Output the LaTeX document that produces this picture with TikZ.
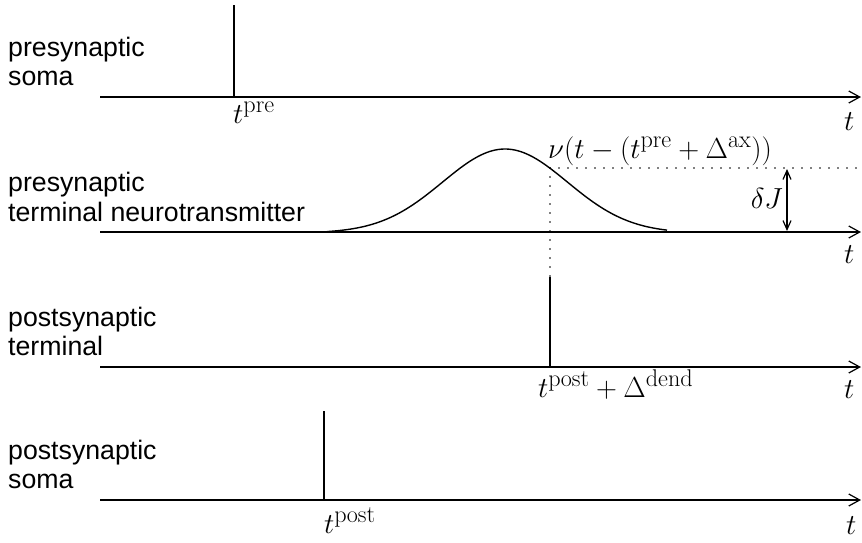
\documentclass[tikz,border=0pt]{standalone}
\usepackage{fontspec}
\usepackage{graphicx}
\newfontfamily\labelsans{Liberation Sans}
\usetikzlibrary{arrows.meta}
\newcommand{\bigmath}[1]{\scalebox{1.1656}{\fontsize{24.88}{30}\selectfont$#1$}}
\tikzset{
  axis/.style={line width=1.4pt, -{Straight Barb[length=11pt,width=12pt,line width=1.2pt]}},
  spike/.style={line width=1.4pt},
  dotline/.style={line width=1.8pt, line cap=round, dash pattern=on 0pt off 9pt},
  curve/.style={line width=1.4pt},
  rowtext/.style={font=\labelsans\fontsize{26.7}{34}\selectfont, anchor=base west, inner sep=0pt, align=left},
  mathlab/.style={anchor=base west, inner sep=0pt},
  dj/.style={line width=1.2pt, {Straight Barb[length=9pt,width=8pt]}-{Straight Barb[length=9pt,width=8pt]}}
}
\begin{document}
\begin{tikzpicture}[x=1pt,y=-1pt]
\useasboundingbox (0,0) rectangle (862,542);
% axes
\coordinate (a1s) at (100,97);  \coordinate (a1e) at (861,97);
\coordinate (a2s) at (100,232); \coordinate (a2e) at (861,232);
\coordinate (a3s) at (100,367); \coordinate (a3e) at (861,367);
\coordinate (a4s) at (100,500); \coordinate (a4e) at (861,500);
\draw[axis] (a1s) -- (a1e);
\draw[axis] (a2s) -- (a2e);
\draw[axis] (a3s) -- (a3e);
\draw[axis] (a4s) -- (a4e);
% row texts
\node[rowtext] (r1a) at (8,56) {presynaptic};
\node[rowtext] (r1b) at (8,85) {soma};
\node[rowtext] (r2a) at (8,191) {presynaptic};
\node[rowtext] (r2b) at (8,221) {terminal neurotransmitter};
\node[rowtext] (r3a) at (8,326) {postsynaptic};
\node[rowtext] (r3b) at (8,355) {terminal};
\node[rowtext] (r4a) at (8,459) {postsynaptic};
\node[rowtext] (r4b) at (8,488) {soma};
% axis t labels
\node[mathlab] (t1) at (844,130) {\bigmath{t}};
\node[mathlab] (t2) at (844,263) {\bigmath{t}};
\node[mathlab] (t3) at (844,398) {\bigmath{t}};
\node[mathlab] (t4) at (846,534) {\bigmath{t}};
% spikes
\coordinate (s1t) at (234,5);   \coordinate (s1b) at (234,97);
\coordinate (s3t) at (550,277); \coordinate (s3b) at (550,367);
\coordinate (s4t) at (324,411); \coordinate (s4b) at (324,500);
\draw[spike] (s1t) -- (s1b);
\draw[spike] (s3t) -- (s3b);
\draw[spike] (s4t) -- (s4b);
\node[mathlab] (tpre) at (233,123) {\bigmath{t^{\mathrm{pre}}}};
\node[mathlab] (tpost) at (324,533) {\bigmath{t^{\mathrm{post}}}};
\node[mathlab] (tpd) at (538,397) {\bigmath{t^{\mathrm{post}}+\Delta^{\mathrm{dend}}}};
% transmitter curve
\draw[curve] plot[domain=327:667, samples=120, smooth]
  (\x, {232 - 84*(exp(-0.5*((\x-505)/62.4)^2)-0.012)});
% dotted guides
\coordinate (cross) at (550,168);
\coordinate (hend) at (860,168);
\draw[dotline] (cross) -- (hend);
\draw[dotline] (cross) -- (s3t);
\node[mathlab] (nu) at (548,158) {\bigmath{\nu(t-(t^{\mathrm{pre}}+\Delta^{\mathrm{ax}}))}};
% delta J
\coordinate (djt) at (787,169);
\coordinate (djb) at (787,231);
\draw[dj] (djt) -- (djb);
\node[mathlab, anchor=base east] (dJ) at (783,208) {\bigmath{\delta J}};
\end{tikzpicture}
\end{document}
